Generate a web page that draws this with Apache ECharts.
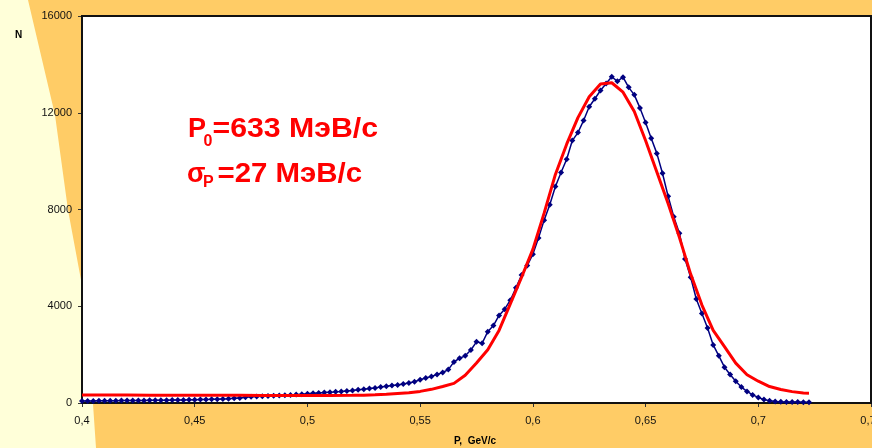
<!DOCTYPE html>
<html><head><meta charset="utf-8">
<script src="https://cdn.jsdelivr.net/npm/echarts@6/dist/echarts.min.js"></script>
<style>html,body{margin:0;padding:0;background:#FFFFD9;}#c{width:872px;height:448px;}</style>
</head><body><div id="c"></div>
<script>
const P_START = 0.4, P_STEP = 0.0025;
const measuredN = [
  80,85,85,90,90,95,95,100,100,100,
  105,105,110,110,115,115,120,125,125,130,
  135,140,145,150,160,170,180,195,210,240,
  260,265,275,285,300,310,320,335,350,365,
  385,400,415,430,445,460,480,500,520,545,
  565,595,625,660,690,720,745,790,830,880,
  960,1030,1100,1180,1260,1380,1700,1850,1950,2190,
  2530,2470,2950,3200,3620,3880,4250,4760,5290,5680,
  6150,6820,7560,8200,8950,9530,10080,10850,11180,11680,
  12250,12580,12920,13210,13490,13300,13470,13050,12740,12200,
  11600,10950,10320,9500,8550,7700,7020,5950,5200,4300,
  3700,3100,2400,1950,1480,1180,900,660,480,335,
  230,140,90,65,50,45,40,40,35,35
];
// Fit curve (red)
const fitP = [0.40,0.41,0.42,0.43,0.44,0.45,0.46,0.47,0.48,0.49,0.50,0.51,0.52,0.525,0.53,0.535,0.54,0.545,0.55,0.555,0.56,0.565,0.57,0.575,0.58,0.585,0.59,0.595,0.60,0.605,0.61,0.615,0.62,0.625,0.63,0.635,0.64,0.645,0.65,0.655,0.66,0.665,0.67,0.675,0.68,0.685,0.69,0.695,0.70,0.705,0.71,0.715,0.72,0.7225];
const fitN = [330,328,326,324,322,320,318,316,315,314,313,314,318,325,340,360,390,420,480,565,680,810,1150,1650,2200,3000,4100,5200,6350,7850,9450,10700,11800,12664,13190,13240,12850,12050,10850,9550,8250,6850,5330,4050,3000,2330,1650,1170,900,680,560,470,410,400];
const yTicks = [0,4000,8000,12000,16000];

const blueData = measuredN.map((n,i)=>[+(P_START+i*P_STEP).toFixed(4), n]);
const redData = fitP.map((p,i)=>[p, fitN[i]]);

const chart = echarts.init(document.getElementById('c'), null, {renderer:'canvas'});
const font = 'Arial, "Liberation Sans", sans-serif';
chart.setOption({
  backgroundColor:'#FFFFD9',
  animation:false,
  grid:{left:82, top:16, width:789, height:387, outerBoundsMode:'none', containLabel:false,
    show:true, backgroundColor:'#FFFFFF', borderColor:'#111', borderWidth:2, z:1},
  xAxis:{type:'value', min:0.4, max:0.75, interval:0.05,
    axisLine:{lineStyle:{color:'#111', width:2}},
    axisTick:{show:true, length:4, lineStyle:{color:'#333'}},
    splitLine:{show:false},
    axisLabel:{color:'#111', fontSize:11, fontFamily:font, margin:12, hideOverlap:false,
      formatter:v=>String(parseFloat(v.toFixed(2))).replace('.',',')}
  },
  yAxis:{type:'value', min:yTicks[0], max:yTicks[yTicks.length-1], interval:4000,
    axisLine:{show:true, lineStyle:{color:'#111', width:2}},
    axisTick:{show:true, length:4, lineStyle:{color:'#333'}},
    splitLine:{show:true, lineStyle:{color:'#C8C8C8', type:[7,5], width:1}},
    axisLabel:{color:'#111', fontSize:11, fontFamily:font, margin:10, formatter:v=>String(v)}
  },
  series:[
    {type:'line', data:blueData, symbol:'diamond', symbolSize:6, showSymbol:true,
     lineStyle:{color:'#000080', width:1.5}, itemStyle:{color:'#000080'}, z:3},
    {type:'line', data:redData, symbol:'none', lineStyle:{color:'#FF0000', width:3}, z:4}
  ],
  graphic:[
    {type:'polygon', z:-100, silent:true,
     shape:{points:[[28,0],[872,0],[872,448],[96,448],[93,404],[82,404],[82,282],[81,280],[68,210],[55,115]]},
     style:{fill:'#FFCC66'}},
    {type:'text', left:15, top:30, z:10, style:{text:'N', font:'bold 10px '+font, fill:'#000'}},
    {type:'text', x:475, y:441, z:10, style:{text:'P,  GeV/c', font:'bold 10px '+font, fill:'#000', align:'center', verticalAlign:'middle'}},
    {type:'text', x:188, y:143, z:10, style:{text:'P', font:'bold 27px '+font, fill:'#FF0000', verticalAlign:'bottom'}},
    {type:'text', x:203.5, y:150, z:10, style:{text:'0', font:'bold 16px '+font, fill:'#FF0000', verticalAlign:'bottom'}},
    {type:'text', x:212.5, y:143, scaleX:1.12, z:10, style:{text:'=633 МэВ/с', font:'bold 27px '+font, fill:'#FF0000', verticalAlign:'bottom'}},
    {type:'text', x:187, y:188, z:10, style:{text:'σ', font:'bold 27px '+font, fill:'#FF0000', verticalAlign:'bottom'}},
    {type:'text', x:203, y:191, z:10, style:{text:'P', font:'bold 16px '+font, fill:'#FF0000', verticalAlign:'bottom'}},
    {type:'text', x:217.5, y:188, scaleX:1.09, z:10, style:{text:'=27 МэВ/с', font:'bold 27px '+font, fill:'#FF0000', verticalAlign:'bottom'}}
  ]
});
</script></body></html>
